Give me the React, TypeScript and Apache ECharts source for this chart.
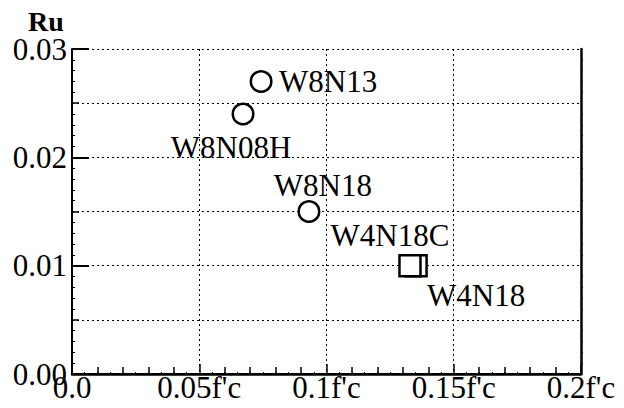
import React, { useEffect, useRef } from "react";
import * as echarts from "echarts";

const specimenNames = ["W8N13", "W8N08H", "W8N18", "W4N18", "W4N18C"];
const axialRatio = [0.0743, 0.0672, 0.0931, 0.1352, 0.1328];
const ruValues = [0.027, 0.024, 0.015, 0.01, 0.01];
const markerKind = ["circle", "circle", "circle", "rect", "rect"];
const xTickValues = [0, 0.05, 0.1, 0.15, 0.2];
const yTickValues = [0, 0.01, 0.02, 0.03];

const labelOffsets: Record<string, [number, number]> = {
  W8N13: [67, 0],
  W8N08H: [-12, 33],
  W8N18: [14, -26],
  W4N18C: [-20, -30],
  W4N18: [60, 30],
};

const FONT = "'Liberation Serif', 'Times New Roman', serif";
const FS = 31;

export default function App() {
  const ref = useRef<HTMLDivElement>(null);

  useEffect(() => {
    if (!ref.current) return;
    const chart = echarts.init(ref.current, null, { renderer: "svg" });

    const mkData = (kind: string) =>
      specimenNames
        .map((n, i) => ({ n, i }))
        .filter(({ i }) => markerKind[i] === kind)
        .map(({ n, i }) => ({
          name: n,
          value: [axialRatio[i], ruValues[i]],
          label: { offset: labelOffsets[n] },
        }));

    const xMin = xTickValues[0];
    const xMax = xTickValues[xTickValues.length - 1];
    const yMin = yTickValues[0];
    const yMax = yTickValues[yTickValues.length - 1];

    const labelCfg = {
      show: true,
      formatter: "{b}",
      position: "inside" as const,
      color: "#000",
      fontFamily: FONT,
      fontSize: FS,
    };

    const dotted = { color: "#000", width: 1, type: [2, 3] as any };

    chart.setOption({
      animation: false,
      backgroundColor: "#fff",
      title: {
        text: "Ru",
        left: 28,
        top: 8,
        padding: 0,
        textStyle: { fontFamily: FONT, fontWeight: "bold", fontSize: 28, color: "#000", lineHeight: 26 },
      },
      grid: { left: 72, right: 43, top: 49, bottom: 34, containLabel: false },
      xAxis: [
        {
          type: "value",
          position: "bottom",
          min: xMin,
          max: xMax,
          interval: 0.05,
          axisLine: { show: true, lineStyle: { color: "#000", width: 2 } },
          axisTick: { show: true, inside: true, length: 10, lineStyle: { color: "#000", width: 1.5 } },
          minorTick: { show: true, splitNumber: 5, length: 7, lineStyle: { color: "#000", width: 1.5 } },
          splitLine: { show: true, lineStyle: dotted },
          axisLabel: {
            color: "#000",
            fontFamily: FONT,
            fontSize: FS,
            lineHeight: 24,
            margin: 1,
            formatter: (v: number) => (v === 0 ? "0.0" : `${Number(v.toFixed(2))}f'c`),
          },
        },
        {
          type: "value",
          position: "top",
          min: xMin,
          max: xMax,
          interval: 0.05,
          axisLine: { show: true, lineStyle: { color: "#000", width: 2.5 } },
          axisTick: { show: false },
          minorTick: { show: true, splitNumber: 10, length: 2, lineStyle: { color: "#000", width: 1 } },
          splitLine: { show: false },
          axisLabel: { show: false },
        },
      ],
      yAxis: [
        {
          type: "value",
          position: "left",
          min: yMin,
          max: yMax,
          interval: 0.005,
          axisLine: { show: true, lineStyle: { color: "#000", width: 2 } },
          axisTick: { show: true, inside: true, length: 7, lineStyle: { color: "#000", width: 1.5 } },
          minorTick: { show: true, splitNumber: 5, length: 3, lineStyle: { color: "#000", width: 1 } },
          splitLine: { show: true, lineStyle: dotted },
          axisLabel: {
            color: "#000",
            fontFamily: FONT,
            fontSize: FS,
            lineHeight: 24,
            margin: 5,
            formatter: (v: number) =>
              Math.round(v * 1000) % 10 === 0 ? v.toFixed(2) : "",
          },
        },
        {
          type: "value",
          position: "left",
          offset: 0,
          min: yMin,
          max: yMax,
          interval: 0.01,
          axisLine: { show: false },
          axisTick: { show: true, inside: true, length: 17, lineStyle: { color: "#000", width: 2 } },
          splitLine: { show: false },
          axisLabel: { show: false },
        },
        {
          type: "value",
          position: "right",
          min: yMin,
          max: yMax,
          interval: 0.005,
          axisLine: { show: true, lineStyle: { color: "#000", width: 2.5 } },
          axisTick: { show: false },
          minorTick: { show: true, splitNumber: 5, length: 2, lineStyle: { color: "#000", width: 1 } },
          splitLine: { show: false },
          axisLabel: { show: false },
        },
      ],
      series: [
        {
          name: "W4",
          type: "scatter",
          xAxisIndex: 0,
          yAxisIndex: 0,
          symbol: "rect",
          symbolSize: 21,
          itemStyle: { color: "#fff", borderColor: "#000", borderWidth: 2.5, opacity: 1 },
          label: labelCfg,
          data: mkData("rect"),
          z: 3,
        },
        {
          name: "W8",
          type: "scatter",
          xAxisIndex: 0,
          yAxisIndex: 0,
          symbol: "circle",
          symbolSize: 20.5,
          itemStyle: { color: "#fff", borderColor: "#000", borderWidth: 2.5, opacity: 1 },
          label: labelCfg,
          data: mkData("circle"),
          z: 3,
        },
      ],
    });

    return () => chart.dispose();
  }, []);

  return <div ref={ref} style={{ width: 624, height: 408, margin: -8 }} />;
}
